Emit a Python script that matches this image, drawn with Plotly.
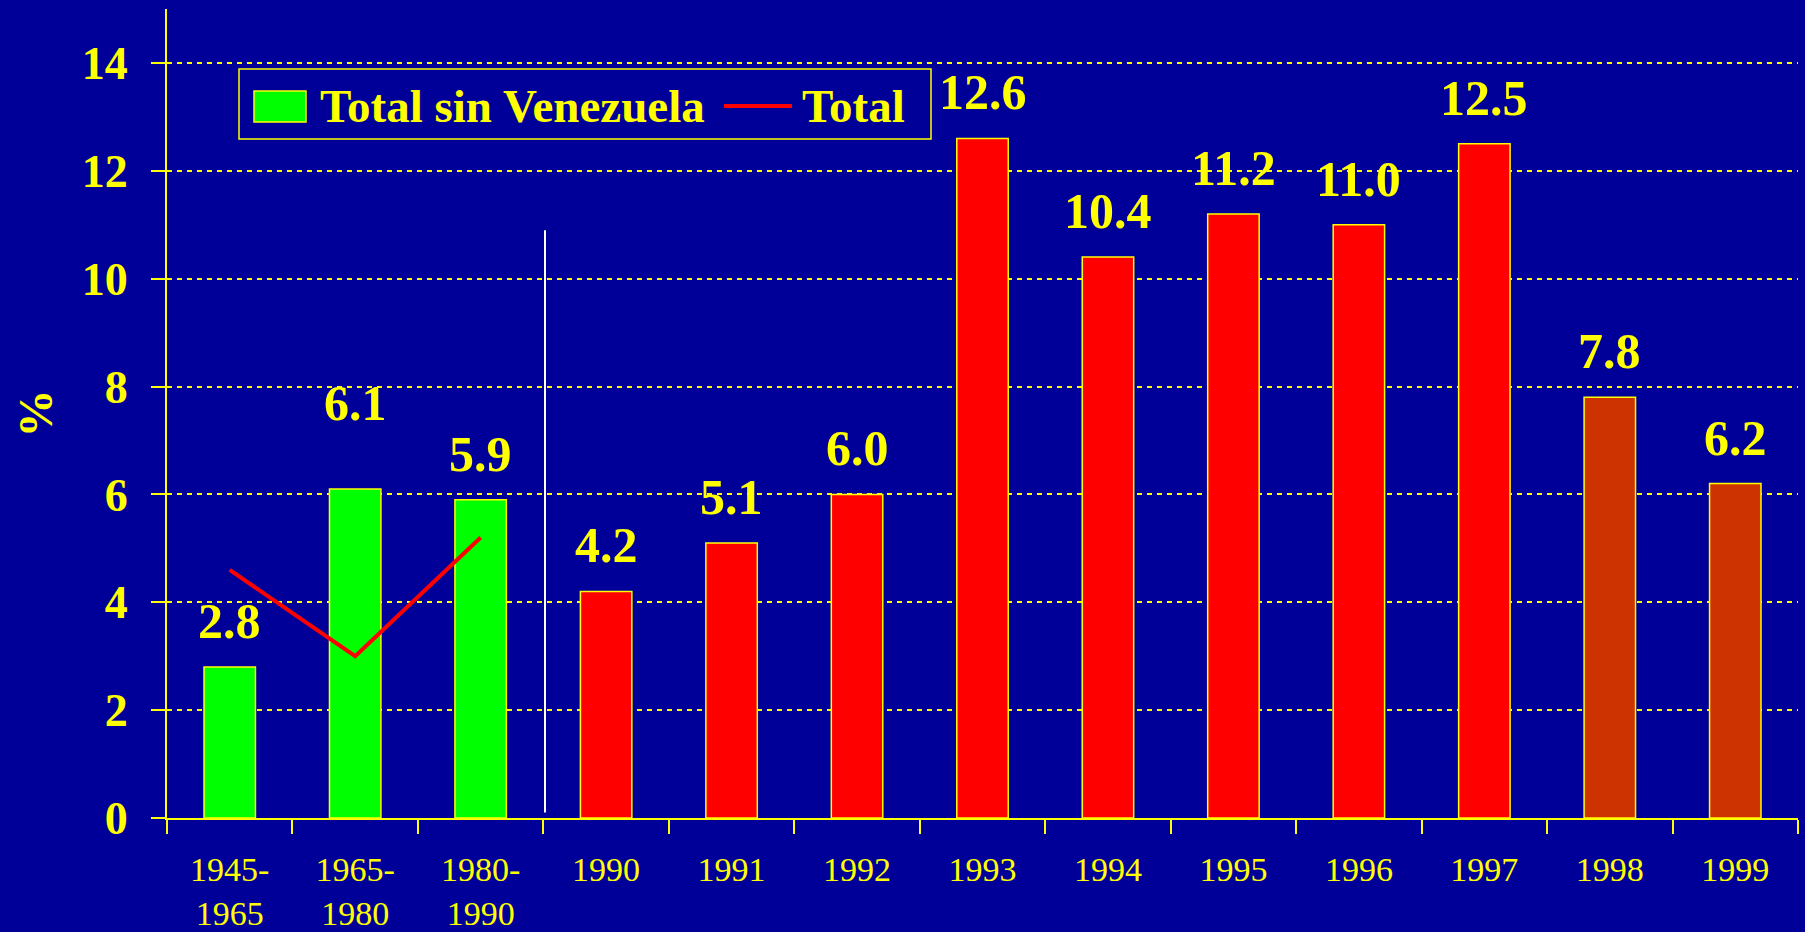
import plotly.graph_objects as go

# ---- data ----
categories = ["1945-<br>1965", "1965-<br>1980", "1980-<br>1990", "1990", "1991", "1992",
              "1993", "1994", "1995", "1996", "1997", "1998", "1999"]
bar_values = [2.8, 6.1, 5.9, 4.2, 5.1, 6.0, 12.6, 10.4, 11.2, 11.0, 12.5, 7.8, 6.2]
bar_labels = ["2.8", "6.1", "5.9", "4.2", "5.1", "6.0", "12.6", "10.4", "11.2", "11.0", "12.5", "7.8", "6.2"]
total_categories = categories[:3]
total_values = [4.6, 3.0, 5.2]
y_ticks = [0, 2, 4, 6, 8, 10, 12, 14]

# ---- styles ----
BG = "#000099"
YELLOW = "#FFFF00"
bar_colors = ["#00FF00"] * 3 + ["#FF0000"] * 8 + ["#CC3300"] * 2
label_shift = [16, 56, 16, 16, 16, 16, 16, 16, 16, 16, 16, 16, 16]

fig = go.Figure()
fig.add_trace(go.Bar(
    x=categories, y=bar_values, width=0.41,
    marker=dict(color=bar_colors, line=dict(color=YELLOW, width=1.5)),
    showlegend=False, hoverinfo="skip",
))
fig.add_trace(go.Scatter(
    x=total_categories, y=total_values, mode="lines",
    line=dict(color="#FF0000", width=4), showlegend=False, hoverinfo="skip",
))

annotations = []
for i, (v, t, s) in enumerate(zip(bar_values, bar_labels, label_shift)):
    annotations.append(dict(
        x=i, y=v, xref="x", yref="y", text=t, showarrow=False,
        yanchor="bottom", yshift=s,
        font=dict(family="Liberation Serif", size=50, color=YELLOW, weight="bold"),
    ))

# y-axis title
annotations.append(dict(
    xref="paper", yref="paper", x=(35 - 167) / 1631, y=0.5, text="%",
    textangle=-90, showarrow=False, xanchor="center", yanchor="middle",
    font=dict(family="Liberation Serif", size=48, color=YELLOW, weight="bold"),
))

# custom legend
def px(X):
    return (X - 167) / 1631

def py(Y):
    return (818 - Y) / 809

annotations.append(dict(
    xref="paper", yref="paper", x=px(318), y=py(106), text="Total sin Venezuela",
    showarrow=False, xanchor="left", yanchor="middle",
    font=dict(family="Liberation Serif", size=47, color=YELLOW, weight="bold"),
))
annotations.append(dict(
    xref="paper", yref="paper", x=px(800), y=py(106), text="Total",
    showarrow=False, xanchor="left", yanchor="middle",
    font=dict(family="Liberation Serif", size=47, color=YELLOW, weight="bold"),
))

shapes = [
    # legend box
    dict(type="rect", xref="paper", yref="paper", x0=px(239), x1=px(931), y0=py(139), y1=py(69),
         line=dict(color=YELLOW, width=1.5), fillcolor=BG, layer="above"),
    dict(type="rect", xref="paper", yref="paper", x0=px(254), x1=px(306), y0=py(122), y1=py(91),
         line=dict(color=YELLOW, width=1.5), fillcolor="#00FF00", layer="above"),
    dict(type="line", xref="paper", yref="paper", x0=px(724), x1=px(792), y0=py(106), y1=py(106),
         line=dict(color="#FF0000", width=4), layer="above"),
    # separator line (between 3rd and 4th category)
    dict(type="line", xref="paper", yref="y", x0=px(545), x1=px(545), y0=0.1, y1=10.9,
         line=dict(color="#FFFFFF", width=2), layer="above"),
]

fig.update_layout(
    width=1805, height=932,
    margin=dict(l=167, r=7, t=9, b=114, autoexpand=False),
    paper_bgcolor=BG, plot_bgcolor=BG,
    annotations=annotations, shapes=shapes,
    xaxis=dict(
        type="category", range=[-0.5, 12.5], autorange=False, automargin=False,
        showgrid=False, showline=True, linecolor=YELLOW, linewidth=2,
        ticks="outside", tickson="boundaries", ticklen=14, tickwidth=1.5, tickcolor=YELLOW,
        tickfont=dict(family="Liberation Serif", size=34, color=YELLOW),
        tickangle=0, ticklabelstandoff=20, zeroline=False,
    ),
    yaxis=dict(
        range=[0, 15], autorange=False, automargin=False, tickvals=y_ticks,
        showline=True, linecolor=YELLOW, linewidth=2,
        ticks="outside", ticklen=14, tickwidth=1.5, tickcolor=YELLOW,
        tickfont=dict(family="Liberation Serif", size=46, color=YELLOW, weight="bold"),
        ticklabelstandoff=14,
        showgrid=True, gridcolor=YELLOW, gridwidth=2, griddash="5px,5px",
        zeroline=False,
    ),
)

fig.write_html("out.html", config={"displayModeBar": False},
               post_script="document.body.style.margin='0px';document.body.style.background='#000099';")
